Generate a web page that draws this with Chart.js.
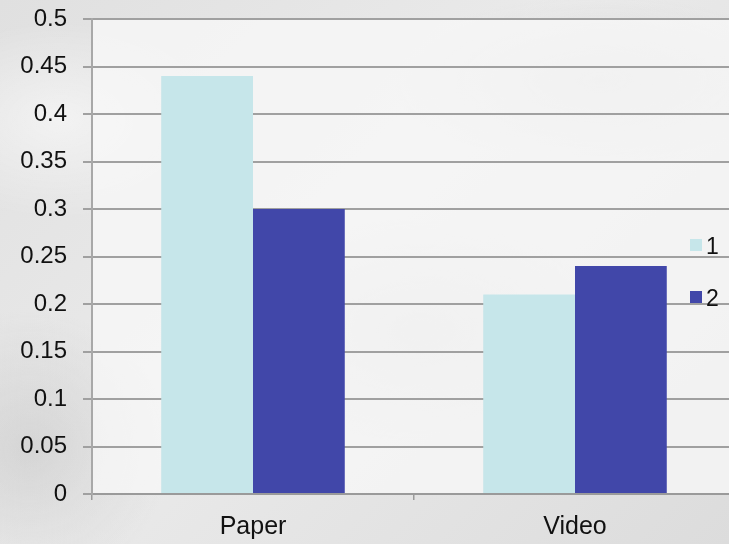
<!DOCTYPE html>
<html>
<head>
<meta charset="utf-8">
<script src="https://cdn.jsdelivr.net/npm/chart.js@4/dist/chart.umd.min.js"></script>
<style>
  html, body { margin: 0; padding: 0; overflow: hidden; }
  body {
    width: 729px; height: 544px;
    background:
      radial-gradient(ellipse 220px 140px at 60px 120px, rgba(255,255,255,0.55), rgba(255,255,255,0) 70%),
      radial-gradient(ellipse 260px 160px at 420px 330px, rgba(200,200,200,0.4), rgba(200,200,200,0) 70%),
      radial-gradient(ellipse 300px 120px at 600px 80px, rgba(205,205,205,0.45), rgba(205,205,205,0) 70%),
      radial-gradient(ellipse 200px 200px at 30px 450px, rgba(185,185,185,0.4), rgba(185,185,185,0) 70%),
      linear-gradient(135deg, #e0e0e0, #eaeaea 45%, #dcdcdc);
  }
  #wrap { position: absolute; left: 0; top: 0; width: 740px; height: 544px; }
</style>
</head>
<body>
<div id="wrap"><canvas id="chart"></canvas></div>
<script>
// data
let categories = ["Paper", "Video"]
let series1 = [0.44, 0.21]
let series2 = [0.30, 0.24]
let seriesNames = ["1", "2"]
let colors = ["#c6e6ea", "#4147a9"]
let fontFamily = '"Liberation Sans", Arial, sans-serif'

//plot area background, a little lighter than the page
const plotBg = {
  id: 'plotBg',
  beforeDraw(chart) {
    const a = chart.chartArea, ctx = chart.ctx;
    ctx.save();
    ctx.fillStyle = 'rgba(248,248,248,0.75)';
    ctx.fillRect(a.left, a.top, a.right - a.left, a.bottom - a.top);
    ctx.restore();
  }
};

//legend drawn over the right side of the plot
const sideLegend = {
  id: 'sideLegend',
  afterDraw(chart) {
    const ctx = chart.ctx;
    ctx.save();
    ctx.font = '23px ' + fontFamily;
    ctx.textBaseline = 'middle';
    chart.data.datasets.forEach((ds, i) => {
      let y = 245 + i * 52;
      ctx.fillStyle = ds.backgroundColor;
      ctx.fillRect(690, y - 6, 12, 12);
      ctx.fillStyle = '#111';
      ctx.fillText(ds.label, 706, y + 3);
    });
    ctx.restore();
  }
};

let chart = new Chart('chart', {
  type: 'bar',
  data: {
    labels: categories,
    datasets: [
      { label: seriesNames[0], data: series1, backgroundColor: colors[0], categoryPercentage: 0.57, barPercentage: 1 },
      { label: seriesNames[1], data: series2, backgroundColor: colors[1], categoryPercentage: 0.57, barPercentage: 1 }
    ]
  },
  options: {
    responsive: true,
    maintainAspectRatio: false,
    animation: false,
    layout: { padding: { top: 19, right: 4, left: 0, bottom: 0 } },
    plugins: { legend: { display: false }, tooltip: { enabled: false } },
    scales: {
      x: {
        grid: { offset: true, drawOnChartArea: false, color: '#9a9a9a', tickLength: 6, lineWidth: 1.5 },
        border: { color: '#9a9a9a', width: 2 },
        ticks: { color: '#111', font: { family: fontFamily, size: 25 }, padding: 12 },
        afterFit(s) { s.height = 50; }
      },
      y: {
        min: 0, max: 0.5,
        grid: { color: '#a0a0a0', lineWidth: 2, tickLength: 9 },
        border: { color: '#a8a8a8', width: 2 },
        ticks: {
          stepSize: 0.05, color: '#111', padding: 16,
          font: { family: fontFamily, size: 24 },
          callback: v => String(Math.round(v * 100) / 100)
        },
        afterFit(s) { s.width = 92; s.paddingTop = 0; s.paddingBottom = 0; }
      }
    }
  },
  plugins: [plotBg, sideLegend]
});
</script>
</body>
</html>
